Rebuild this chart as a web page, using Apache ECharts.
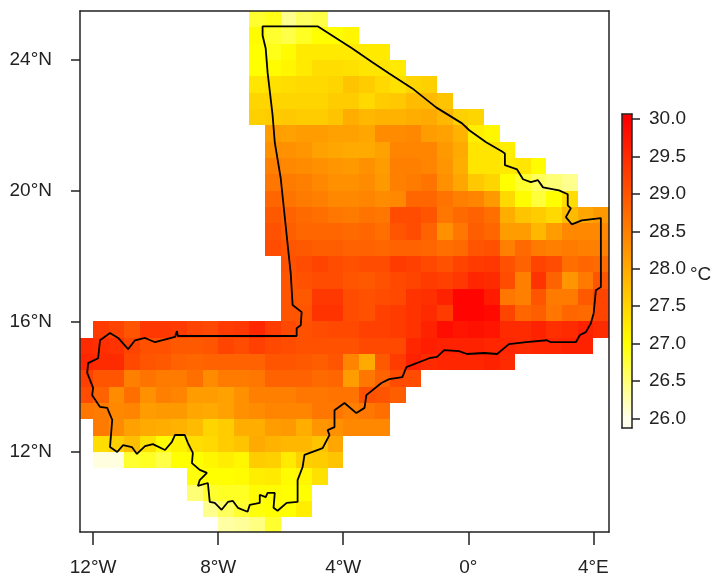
<!DOCTYPE html>
<html><head><meta charset="utf-8">
<script src="https://cdn.jsdelivr.net/npm/echarts@6/dist/echarts.min.js"></script>
<style>html,body{margin:0;padding:0;background:#fff}#c{width:715px;height:583px}</style>
</head><body><div id="c"></div>
<script>
const cellSize = 0.5;
const rowTopLat = [25.5,25,24.5,24,23.5,23,22.5,22,21.5,21,20.5,20,19.5,19,18.5,18,17.5,17,16.5,16,15.5,15,14.5,14,13.5,13,12.5,12,11.5,11,10.5,10];
const rowStartLon = [-7,-7,-7,-7,-7,-7,-7,-6.5,-6.5,-6.5,-6.5,-6.5,-6.5,-6.5,-6.5,-6,-6,-6,-6,-12,-12.5,-12.5,-12.5,-12.5,-12.5,-12,-12,-12,-9,-9,-8.5,-8];
const rowValues = [
[26.8,26.9,26.4,26.6,26.7],
[27.05,26.8,26.7,26.85,27.0,27.0,27.1],
[27.0,26.9,27.05,27.25,27.25,27.25,27.25,27.25,27.25],
[27.0,27.05,27.1,27.25,27.4,27.4,27.35,27.3,27.3,27.25],
[27.3,27.35,27.4,27.45,27.45,27.5,27.7,27.6,27.45,27.35,27.5,27.55],
[27.5,27.5,27.5,27.5,27.5,27.6,27.6,27.45,27.6,27.65,27.8,27.8,27.7],
[27.55,27.6,27.65,27.6,27.6,27.7,27.95,27.85,27.9,27.9,27.95,28.0,27.85,27.55,27.5],
[28.15,28.1,28.15,28.15,28.1,28.1,28.05,28.35,28.35,28.4,28.15,28.1,27.9,27.2,27.1],
[28.3,28.3,28.25,28.1,28.05,28.0,28.0,28.1,28.45,28.45,28.45,28.2,28.0,27.3,27.3,27.2],
[28.5,28.4,28.35,28.3,28.25,28.2,28.3,28.15,28.5,28.5,28.45,28.25,27.95,27.3,27.3,27.25,27.3,27.05],
[28.6,28.55,28.5,28.4,28.3,28.3,28.35,28.2,28.5,28.55,28.65,28.3,28.05,27.65,27.5,27.0,26.8,26.6,26.5,26.4],
[28.8,28.65,28.55,28.5,28.4,28.4,28.45,28.35,28.4,28.8,28.8,28.65,28.5,28.45,28.2,27.45,27.05,26.75,27.0,27.4],
[28.95,28.85,28.75,28.7,28.6,28.55,28.65,28.6,29.1,29.1,29.0,28.6,28.75,28.85,28.7,27.95,27.7,27.6,27.45,27.8,28.05,28.2],
[29.05,28.9,28.8,28.8,28.8,28.75,28.8,28.7,29.0,29.1,28.85,28.3,28.6,28.9,28.8,28.15,28.15,27.85,28.15,28.4,28.4,28.4],
[29.1,29.0,28.95,28.9,28.9,28.85,28.85,28.8,28.85,28.85,28.8,28.7,28.75,29.0,29.05,28.5,28.75,28.55,28.5,28.55,28.5,28.5],
[29.05,29.1,29.2,29.1,29.05,29.1,29.1,29.3,29.25,29.15,29.05,29.2,29.3,29.35,29.05,28.85,29.2,29.1,28.7,28.8,28.75],
[29.0,29.05,29.1,29.1,29.0,28.95,29.05,29.15,29.2,29.3,29.25,29.35,29.55,29.5,29.1,28.5,29.4,28.85,28.25,28.55,29.0],
[29.0,28.95,29.35,29.35,29.1,29.05,29.1,29.15,29.4,29.45,29.6,29.95,29.95,29.7,28.6,28.5,29.0,28.55,28.55,28.95,29.2],
[29.0,29.0,29.4,29.4,29.1,29.05,29.25,29.3,29.4,29.5,29.3,29.95,29.95,29.9,29.2,28.8,28.9,28.6,28.8,28.75,29.2],
[29.3,29.2,29.0,29.35,29.35,29.3,29.2,29.15,29.3,29.35,29.55,29.3,29.15,29.05,29.1,29.15,29.15,29.25,29.25,29.3,29.4,29.6,29.85,29.75,29.8,29.75,29.5,29.5,29.6,29.45,29.5,29.6,29.5],
[29.5,29.45,29.4,29.2,29.05,29.05,28.95,28.95,29.0,29.2,29.1,29.25,29.15,29.1,29.05,29.05,29.05,29.05,29.15,29.15,29.15,29.55,29.65,29.6,29.6,29.6,29.55,29.55,29.5,29.55,29.55,29.6,29.6],
[29.55,29.5,29.5,29.15,29.0,28.95,28.85,28.8,28.85,28.85,28.85,28.85,29.0,29.0,28.95,28.9,29.0,28.45,28.0,28.95,29.3,29.6,29.5,29.55,29.55,29.55,29.6,29.5],
[29.25,29.0,29.0,28.5,28.65,28.55,28.55,28.7,28.35,28.55,28.55,28.6,28.85,28.85,28.85,28.75,28.8,28.15,28.6,28.85,29.1,29.1],
[29.1,28.85,28.35,28.7,28.3,28.5,28.45,28.15,28.15,28.1,28.3,28.5,28.5,28.5,28.6,28.6,28.65,28.65,29.05,29.0,28.9],
[28.6,28.55,28.4,28.45,28.15,28.2,28.2,28.05,28.0,28.1,28.3,28.35,28.45,28.45,28.45,28.6,28.6,28.5,28.6,28.7],
[28.55,28.35,28.1,28.0,27.95,27.9,27.8,27.5,27.6,27.95,27.95,28.15,28.2,27.95,28.25,28.3,28.4,28.4,28.4],
[27.4,27.55,27.75,27.35,27.05,27.15,27.4,27.45,27.6,27.7,28.0,27.9,27.85,27.85,27.7,28.05],
[26.05,26.05,26.8,26.85,26.7,27.0,27.0,27.1,27.2,27.1,27.6,27.55,27.25,27.55,27.6,27.7],
[26.95,27.0,27.0,27.05,27.2,27.25,27.05,27.1,27.35],
[26.5,26.8,26.85,26.85,27.05,27.05,27.0,27.0],
[26.4,26.6,26.8,26.95,27.0,27.0,27.2],
[26.3,26.35,26.45,26.8]
];
const borderLon = [-6.55,-4.82,-3.71,-3.07,-2.53,-1.79,-1.03,-0.20,0.03,0.57,1.08,1.17,1.17,1.56,1.75,2.0,2.23,2.39,2.90,3.18,3.18,3.28,3.12,3.31,3.63,4.24,4.24,4.08,4.01,3.92,3.76,3.57,3.44,2.64,2.51,1.85,1.30,0.92,0.51,-0.04,-0.30,-0.77,-1.0,-1.25,-1.98,-2.11,-2.53,-2.78,-3.26,-3.32,-3.58,-3.96,-4.28,-4.28,-4.50,-4.44,-4.66,-5.24,-5.30,-5.46,-5.46,-5.81,-6.10,-6.23,-6.19,-6.42,-6.48,-6.67,-6.67,-6.99,-7.06,-7.37,-7.53,-7.69,-7.89,-8.11,-8.27,-8.33,-8.65,-8.59,-8.36,-8.59,-8.84,-8.81,-8.97,-9.07,-9.38,-9.48,-9.70,-10.09,-10.34,-10.60,-10.76,-11.04,-11.23,-11.46,-11.39,-11.55,-11.78,-12.03,-12.0,-12.19,-12.16,-11.84,-11.78,-11.46,-11.20,-10.88,-10.66,-10.34,-10.02,-9.38,-9.32,-9.29,-5.49,-5.49,-5.36,-5.33,-5.62,-5.68,-5.75,-6.0,-6.19,-6.26,-6.42,-6.48,-6.58,-6.58,-6.55];
const borderLat = [25.03,25.03,24.35,23.93,23.59,23.13,22.55,22.06,21.85,21.48,21.20,21.14,20.78,20.65,20.35,20.26,20.32,20.10,20.01,19.89,19.55,19.46,19.19,18.97,19.09,19.16,17.05,16.95,16.25,15.94,15.67,15.58,15.36,15.36,15.42,15.36,15.30,15.0,15.03,15.0,15.09,15.12,14.91,14.87,14.60,14.29,14.23,14.11,13.74,13.35,13.19,13.50,13.28,12.76,12.67,12.52,12.12,11.91,11.54,11.14,10.47,10.44,10.20,10.29,10.75,10.75,10.62,10.69,10.44,10.38,10.17,10.29,10.50,10.47,10.23,10.44,10.47,11.05,10.96,11.14,11.36,11.45,11.66,11.97,12.28,12.52,12.52,12.31,12.06,12.24,12.18,11.94,12.15,12.21,12.0,12.15,12.98,13.35,13.38,13.74,13.96,14.42,14.72,14.87,15.42,15.64,15.49,15.15,15.42,15.49,15.36,15.52,15.70,15.55,15.55,15.79,15.88,16.28,16.50,17.47,18.09,20.38,21.48,22.31,23.62,24.35,24.75,25.03,25.03];
const lonTicks = [-12,-8,-4,0,4];
const lonLabels = ['12°W','8°W','4°W','0°','4°E'];
const latTicks = [12,16,20,24];
const latLabels = ['12°N','16°N','20°N','24°N'];
const legendTicks = [26,26.5,27,27.5,28,28.5,29,29.5,30];
const unitLabel = '°C';

function colorFor(v){
  v = Math.max(26, Math.min(30, v));
  if (v >= 27) return 'rgb(255,' + Math.round(255*(30-v)/3) + ',0)';
  return 'rgb(255,255,' + Math.round(235*(27-v)) + ')';
}
const cells = [];
rowTopLat.forEach((lat,i)=>rowValues[i].forEach((val,j)=>cells.push([rowStartLon[i]+j*cellSize,lat,val])));
const border = borderLon.map((x,i)=>[x,borderLat[i]]);
const font = 'Liberation Sans, Arial, sans-serif';
const ink = '#222';
const lineStyle = {color:ink,width:1.5};

function cellItem(params,api){
  const lon=api.value(0),lat=api.value(1);
  const a=api.coord([lon,lat]),b=api.coord([lon+cellSize,lat-cellSize]);
  const x0=Math.round(a[0]),y0=Math.round(a[1]),x1=Math.round(b[0]),y1=Math.round(b[1]);
  const shape=echarts.graphic.clipRectByRect({x:x0,y:y0,width:x1-x0,height:y1-y0},params.coordSys);
  if(!shape) return null;
  return {type:'rect',shape:shape,style:{fill:colorFor(api.value(2))}};
}
function rampItem(params,api){
  const lo=api.value(0),hi=api.value(1);
  const a=api.coord([0,hi]),b=api.coord([1,lo]);
  const stops=[];
  legendTicks.forEach(t=>stops.push({offset:(hi-t)/(hi-lo),color:colorFor(t)}));
  stops.sort((p,q)=>p.offset-q.offset);
  return {type:'rect',shape:{x:a[0],y:a[1],width:b[0]-a[0],height:b[1]-a[1]},
    style:{fill:new echarts.graphic.LinearGradient(0,0,0,1,stops)}};
}
const chart = echarts.init(document.getElementById('c'),null,{renderer:'canvas'});
chart.setOption({
  backgroundColor:'#fff',animation:false,
  grid:[{left:80,top:11,width:529,height:521,show:false},
        {left:622,top:114,width:10,height:314,show:false}],
  xAxis:[
   {type:'value',gridIndex:0,min:-12.42,max:4.5,position:'bottom',z:6,splitLine:{show:false},
    axisLine:{show:true,onZero:false,lineStyle},
    axisTick:{show:true,customValues:lonTicks,length:13,lineStyle},
    axisLabel:{show:true,customValues:lonTicks,margin:26,fontFamily:font,fontSize:19,color:ink,
      formatter:v=>lonLabels[lonTicks.indexOf(v)]}},
   {type:'value',gridIndex:0,min:-12.42,max:4.5,position:'top',z:6,splitLine:{show:false},
    axisLine:{show:true,onZero:false,lineStyle},axisTick:{show:false},axisLabel:{show:false}},
   {type:'value',gridIndex:1,min:0,max:1,position:'bottom',z:6,splitLine:{show:false},
    axisLine:{show:true,onZero:false,lineStyle},axisTick:{show:false},axisLabel:{show:false}},
   {type:'value',gridIndex:1,min:0,max:1,position:'top',z:6,splitLine:{show:false},
    axisLine:{show:true,onZero:false,lineStyle},axisTick:{show:false},axisLabel:{show:false}}
  ],
  yAxis:[
   {type:'value',gridIndex:0,min:9.55,max:25.5,position:'left',z:6,splitLine:{show:false},
    axisLine:{show:true,onZero:false,lineStyle},
    axisTick:{show:true,customValues:latTicks,length:9,lineStyle},
    axisLabel:{show:true,customValues:latTicks,margin:28,padding:[2,0,0,0],fontFamily:font,fontSize:19,color:ink,
      formatter:v=>latLabels[latTicks.indexOf(v)]}},
   {type:'value',gridIndex:0,min:9.55,max:25.5,position:'right',z:6,splitLine:{show:false},
    axisLine:{show:true,onZero:false,lineStyle},axisTick:{show:false},axisLabel:{show:false}},
   {type:'value',gridIndex:1,min:25.87,max:30.07,position:'right',z:6,splitLine:{show:false},
    axisLine:{show:true,onZero:false,lineStyle},
    axisTick:{show:true,customValues:legendTicks,length:8,lineStyle},
    axisLabel:{show:true,customValues:legendTicks,margin:17,padding:[5,0,0,0],fontFamily:font,fontSize:19,color:ink,
      formatter:v=>v.toFixed(1)}},
   {type:'value',gridIndex:1,min:25.87,max:30.07,position:'left',z:6,splitLine:{show:false},
    axisLine:{show:true,onZero:false,lineStyle},axisTick:{show:false},axisLabel:{show:false}}
  ],
  graphic:[{type:'text',left:690,top:265,style:{text:unitLabel,font:'19px '+font,fill:ink}}],
  series:[
   {type:'custom',xAxisIndex:0,yAxisIndex:0,data:cells,renderItem:cellItem,z:2,silent:true},
   {type:'line',xAxisIndex:0,yAxisIndex:0,data:border,showSymbol:false,symbol:'none',z:3,silent:true,
    lineStyle:{color:'#000',width:1.8},itemStyle:{color:'#000'}},
   {type:'custom',xAxisIndex:2,yAxisIndex:2,data:[[25.87,30.07]],renderItem:rampItem,z:2,silent:true}
  ]
});
</script></body></html>
